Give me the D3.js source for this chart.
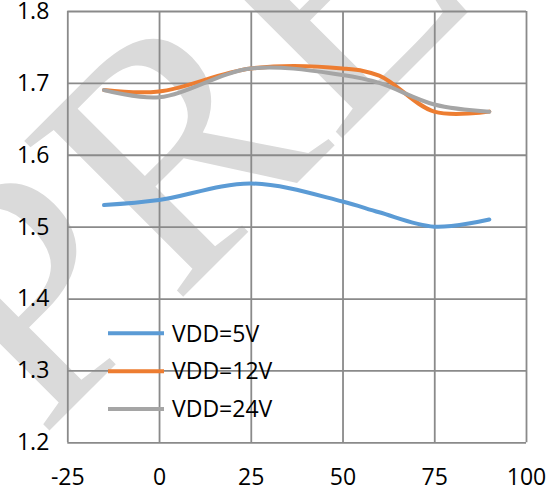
<!DOCTYPE html>
<html>
<head>
<meta charset="utf-8">
<script src="https://cdn.jsdelivr.net/npm/d3@7"></script>
<style>
  body { margin: 0; background: #fff; }
  text { font-family: "Open Sans", "Liberation Sans", Arial, sans-serif; }
</style>
</head>
<body>
<script>
var width = 555, height = 493

// data
var temps = [-15, 0, 25, 50, 60, 75, 90]
var vdd5 = [1.53, 1.537, 1.56, 1.535, 1.52, 1.50, 1.51]
var vdd12 = [1.69, 1.688, 1.72, 1.72, 1.71, 1.66, 1.66]
var vdd24 = [1.69, 1.68, 1.72, 1.711, 1.70, 1.67, 1.66]
var seriesNames = ["VDD=5V", "VDD=12V", "VDD=24V"]
var xTicks = [-25, 0, 25, 50, 75, 100]
var yTicks = [1.2, 1.3, 1.4, 1.5, 1.6, 1.7, 1.8]

var colors = ["#5b9bd5", "#ed7d31", "#a5a5a5"]
var plot = {left: 67.3, right: 526, top: 11, bottom: 442.3}

var svg = d3.select("body").append("svg")
    .attr("width", width).attr("height", height)

// watermark
svg.append("text")
    .attr("transform", "translate(41,439) rotate(-45)")
    .style("font-family", "'Liberation Serif', serif")
    .style("font-size", "340px")
    .attr("fill", "#dadada")
    .text("PRELIMINARY")

var xScale = d3.scaleLinear()
    .domain([-25, 100])
    .range([plot.left, plot.right])
var yScale = d3.scaleLinear()
    .domain([1.2, 1.8])
    .range([plot.bottom, plot.top])

//grid
var xGrid = d3.axisBottom(xScale)
    .tickValues(xTicks)
    .tickFormat("")
    .tickSizeInner(-(plot.bottom - plot.top))
    .tickSizeOuter(0)
var yGrid = d3.axisLeft(yScale)
    .tickValues(yTicks)
    .tickFormat("")
    .tickSizeInner(-(plot.right - plot.left))
    .tickSizeOuter(0)

svg.append("g")
    .attr("transform", "translate(0," + plot.bottom + ")")
    .call(xGrid)
svg.append("g")
    .attr("transform", "translate(" + plot.left + ",0)")
    .call(yGrid)
svg.selectAll(".domain").remove()
svg.selectAll(".tick line").attr("stroke", "#8a8a8a").attr("stroke-width", 1.8)

//labels
var xAxis = d3.axisBottom(xScale)
    .tickValues(xTicks)
    .tickFormat(d => String(d))
    .tickSize(0)
    .tickPadding(26)
var yAxis = d3.axisLeft(yScale)
    .tickValues(yTicks)
    .tickFormat(d3.format(".1f"))
    .tickSize(0)
    .tickPadding(18)

var gx = svg.append("g")
    .attr("transform", "translate(0," + plot.bottom + ")")
    .call(xAxis)
var gy = svg.append("g")
    .attr("transform", "translate(" + plot.left + ",0)")
    .call(yAxis)
gx.select(".domain").remove()
gy.select(".domain").remove()
svg.selectAll(".tick text")
    .style("font-size", "23px")
    .style("font-family", "'Open Sans', 'Liberation Sans', Arial, sans-serif")
    .attr("fill", "#000")

//lines
var line = d3.line()
    .x((d, i) => xScale(temps[i]))
    .y(d => yScale(d))
    .curve(d3.curveCatmullRom.alpha(0.5))

var allSeries = [vdd5, vdd12, vdd24]
svg.append("g")
    .selectAll("path").data(allSeries)
    .enter().append("path")
    .attr("d", line)
    .attr("fill", "none")
    .attr("stroke", (d, i) => colors[i])
    .attr("stroke-width", 4)
    .attr("stroke-linecap", "round")
    .attr("stroke-linejoin", "round")

//legend
var legend = svg.append("g")
    .selectAll("g").data(seriesNames)
    .enter().append("g")
    .attr("transform", (d, i) => "translate(108," + (333.3 + i * 37.9) + ")")
legend.append("line")
    .attr("x1", 0).attr("x2", 56)
    .attr("stroke", (d, i) => colors[i])
    .attr("stroke-width", 4)
legend.append("text")
    .attr("x", 64)
    .attr("dy", "0.36em")
    .style("font-size", "23px")
    .attr("fill", "#000")
    .text(d => d)
</script>
</body>
</html>
